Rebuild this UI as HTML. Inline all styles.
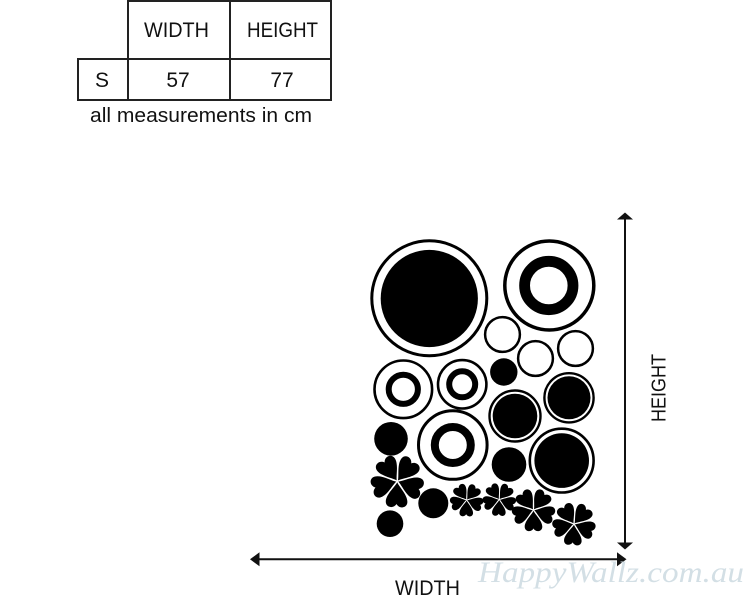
<!DOCTYPE html>
<html>
<head>
<meta charset="utf-8">
<style>
  html, body { margin: 0; padding: 0; background: #ffffff; }
  body { width: 750px; height: 600px; overflow: hidden; }
  svg { display: block; }
  .t { font-family: "Liberation Sans", "DejaVu Sans", sans-serif; fill: #111; }
  .wm { font-family: "Liberation Serif", "DejaVu Serif", serif; font-style: italic; fill: #d3dfe5; }
</style>
</head>
<body>
<svg width="750" height="600" viewBox="0 0 750 600" xmlns="http://www.w3.org/2000/svg">
  <defs>
    <path id="petal" d="M0,-0.04 C-0.09,-0.22 -0.4,-0.5 -0.4,-0.76 C-0.4,-0.98 -0.12,-1.04 0,-0.84 C0.12,-1.04 0.4,-0.98 0.4,-0.76 C0.4,-0.5 0.09,-0.22 0,-0.04 Z"/>
    <g id="flower">
      <use href="#petal" transform="rotate(0)"/>
      <use href="#petal" transform="rotate(72)"/>
      <use href="#petal" transform="rotate(144)"/>
      <use href="#petal" transform="rotate(216)"/>
      <use href="#petal" transform="rotate(288)"/>
    </g>
  </defs>

  <!-- Table -->
  <g stroke="#222" stroke-width="2" fill="none">
    <line x1="128" y1="0" x2="128" y2="101"/>
    <line x1="127" y1="1" x2="332" y2="1"/>
    <line x1="230" y1="0" x2="230" y2="101"/>
    <line x1="331" y1="0" x2="331" y2="101"/>
    <line x1="77" y1="59" x2="332" y2="59"/>
    <line x1="77" y1="100" x2="332" y2="100"/>
    <line x1="78" y1="58" x2="78" y2="101"/>
  </g>
  <text class="t" x="144" y="37" font-size="21" textLength="65" lengthAdjust="spacingAndGlyphs">WIDTH</text>
  <text class="t" x="247" y="37" font-size="21" textLength="71" lengthAdjust="spacingAndGlyphs">HEIGHT</text>
  <text class="t" x="102" y="87" font-size="21" text-anchor="middle">S</text>
  <text class="t" x="178" y="87" font-size="21" text-anchor="middle">57</text>
  <text class="t" x="282" y="87" font-size="21" text-anchor="middle">77</text>
  <text class="t" x="90" y="122" font-size="20" textLength="222" lengthAdjust="spacingAndGlyphs">all measurements in cm</text>

  <!-- Circles -->
  <g fill="none" stroke="#000">
    <circle cx="429.3" cy="298.3" r="57.5" stroke-width="3"/>
    <circle cx="549.3" cy="285.5" r="44.5" stroke-width="3.5"/>
    <circle cx="548.8" cy="285.5" r="24.2" stroke-width="10.8"/>
    <circle cx="502.5" cy="334.5" r="17.4" stroke-width="2.5"/>
    <circle cx="535.5" cy="358.5" r="17.4" stroke-width="2.5"/>
    <circle cx="575.5" cy="348.5" r="17.4" stroke-width="2.5"/>
    <circle cx="403.3" cy="389.3" r="28.8" stroke-width="2.6"/>
    <circle cx="403.3" cy="389.3" r="14.6" stroke-width="6"/>
    <circle cx="462.2" cy="384.3" r="24.2" stroke-width="2.6"/>
    <circle cx="462.2" cy="384.3" r="13" stroke-width="6"/>
    <circle cx="515" cy="416" r="25.5" stroke-width="2.4"/>
    <circle cx="569" cy="397.8" r="24.6" stroke-width="2.4"/>
    <circle cx="452.8" cy="445" r="34.3" stroke-width="3"/>
    <circle cx="452.8" cy="445" r="18" stroke-width="8"/>
    <circle cx="561.7" cy="460.6" r="31.9" stroke-width="2.6"/>
  </g>
  <g fill="#000">
    <circle cx="429.3" cy="298.5" r="48.6"/>
    <circle cx="503.8" cy="372" r="13.7"/>
    <circle cx="515" cy="416" r="22.3"/>
    <circle cx="569" cy="397.8" r="21.5"/>
    <circle cx="391" cy="438.8" r="16.8"/>
    <circle cx="509" cy="464.5" r="17.3"/>
    <circle cx="561.7" cy="460.6" r="27.3"/>
    <circle cx="433.3" cy="503.3" r="15"/>
    <circle cx="390" cy="523.7" r="13.3"/>
  </g>

  <!-- Flowers -->
  <g fill="#000">
    <use href="#flower" transform="translate(397.3 481.3) rotate(-34) scale(27)"/>
    <use href="#flower" transform="translate(466.7 500) rotate(-34) scale(17)"/>
    <use href="#flower" transform="translate(499.3 499.5) rotate(-34) scale(17)"/>
    <use href="#flower" transform="translate(533.5 510) rotate(-36) scale(22)"/>
    <use href="#flower" transform="translate(574 524) rotate(-32) scale(22)"/>
  </g>

  <!-- Dimension arrows -->
  <g stroke="#111" stroke-width="2">
    <line x1="255" y1="559.3" x2="620" y2="559.3"/>
    <line x1="625" y1="217" x2="625" y2="544"/>
  </g>
  <g fill="#111">
    <polygon points="250,559.3 259.5,552.3 259.5,566.3"/>
    <polygon points="626.5,559.3 617,552.3 617,566.3"/>
    <polygon points="625,212.5 617,219.5 633,219.5"/>
    <polygon points="625,549.5 617,542.5 633,542.5"/>
  </g>

  <text class="t" x="395" y="595" font-size="21" textLength="65" lengthAdjust="spacingAndGlyphs">WIDTH</text>
  <text class="t" transform="translate(665.5 422) rotate(-90)" font-size="20" textLength="68" lengthAdjust="spacingAndGlyphs">HEIGHT</text>

  <!-- Watermark -->
  <text class="wm" x="478" y="582" font-size="30" textLength="266" lengthAdjust="spacingAndGlyphs">HappyWallz.com.au</text>
</svg>
</body>
</html>
